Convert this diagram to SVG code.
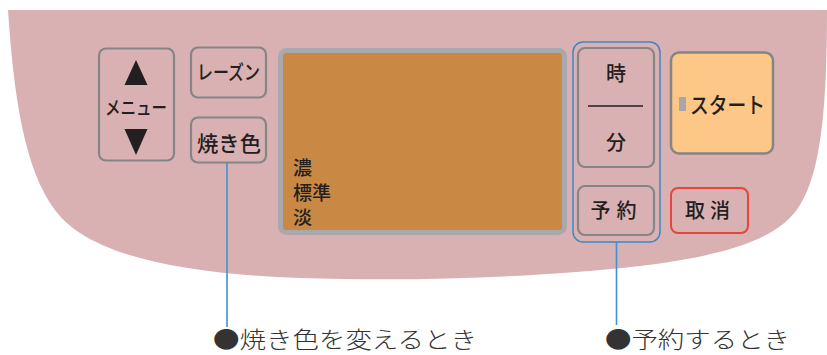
<svg xmlns="http://www.w3.org/2000/svg" width="827" height="355" viewBox="0 0 827 355">
<style>
.t{font-family:"Noto Sans CJK JP","Noto Sans",sans-serif;fill:#231f20;font-weight:500;}
.btn{fill:none;stroke:#858585;stroke-width:2.2;}
.lead{stroke:#3d92d8;stroke-width:1.6;fill:none;}
.lbl{font-family:"Noto Sans CJK JP","Noto Sans",sans-serif;fill:#333;font-size:23px;font-weight:300;}
</style>
<rect width="827" height="355" fill="#fff"/>
<path id="panel" d="M8,10 H827 C827,100 822,170 800,205 C780,238 730,255 640,266 C540,277 420,282 300,278 C190,274 90,258 55,210 C25,170 14,100 8,10 Z" fill="#d9b1b3"/>
<g id="menu">
<rect class="btn" x="99" y="48.5" width="75" height="112" rx="7"/>
<path d="M136,60 L147.5,85 H124.5 Z" fill="#231f20"/>
<text class="t" x="136" y="114.5" font-size="19" text-anchor="middle" textLength="62" lengthAdjust="spacingAndGlyphs">メニュー</text>
<path d="M136,155 L147.5,129 H124.5 Z" fill="#231f20"/>
</g>
<g id="raisin">
<rect class="btn" x="191" y="47.5" width="75" height="50" rx="7"/>
<text class="t" x="228.5" y="80" font-size="20" text-anchor="middle" textLength="63" lengthAdjust="spacingAndGlyphs">レーズン</text>
</g>
<g id="yakiiro">
<rect class="btn" x="191" y="117.5" width="75" height="45" rx="7"/>
<text class="t" x="229" y="150.5" font-size="21" text-anchor="middle" textLength="64" lengthAdjust="spacingAndGlyphs">焼き色</text>
</g>
<g id="display">
<rect x="280.5" y="50.5" width="284" height="182" rx="6" fill="#c98843" stroke="#a9a8ac" stroke-width="5"/>
<text class="t" x="293" y="175" font-size="19">濃</text>
<text class="t" x="293" y="200" font-size="19">標準</text>
<text class="t" x="293" y="224.5" font-size="19">淡</text>
</g>
<g id="timer-group">
<rect x="573" y="42" width="87" height="200" rx="10" fill="none" stroke="#3d86c6" stroke-width="1.5"/>
</g>
<g id="jifun">
<rect class="btn" x="578" y="48" width="76" height="119" rx="7"/>
<text class="t" x="616" y="80.5" font-size="20" text-anchor="middle">時</text>
<line x1="588" y1="106" x2="643" y2="106" stroke="#231f20" stroke-width="1.6"/>
<text class="t" x="616" y="149.5" font-size="20" text-anchor="middle">分</text>
</g>
<g id="yoyaku">
<rect class="btn" x="578" y="186" width="76" height="49" rx="7"/>
<text class="t" x="616.5" y="218" font-size="20" text-anchor="middle" letter-spacing="6">予約</text>
</g>
<g id="start">
<rect x="671" y="52.5" width="102" height="101" rx="8" fill="#fdc787" stroke="#858585" stroke-width="2.5"/>
<rect x="679" y="97" width="7" height="14" fill="#a8a8ac"/>
<text class="t" x="727.5" y="112.5" font-size="22" text-anchor="middle" textLength="75" lengthAdjust="spacingAndGlyphs">スタート</text>
</g>
<g id="cancel">
<rect x="671" y="188" width="77" height="45" rx="7" fill="none" stroke="#e8443a" stroke-width="2"/>
<text class="t" x="710" y="218" font-size="20" text-anchor="middle" letter-spacing="5">取消</text>
</g>
<g id="connectors">
<line class="lead" x1="227" y1="163" x2="227" y2="327"/>
<line class="lead" x1="616.5" y1="242" x2="616.5" y2="325"/>
</g>
<g id="label-yakiiro">
<text class="lbl" x="213" y="348" textLength="264" lengthAdjust="spacingAndGlyphs">●焼き色を変えるとき</text>
</g>
<g id="label-yoyaku">
<text class="lbl" x="605" y="348" textLength="185" lengthAdjust="spacingAndGlyphs">●予約するとき</text>
</g>
</svg>
